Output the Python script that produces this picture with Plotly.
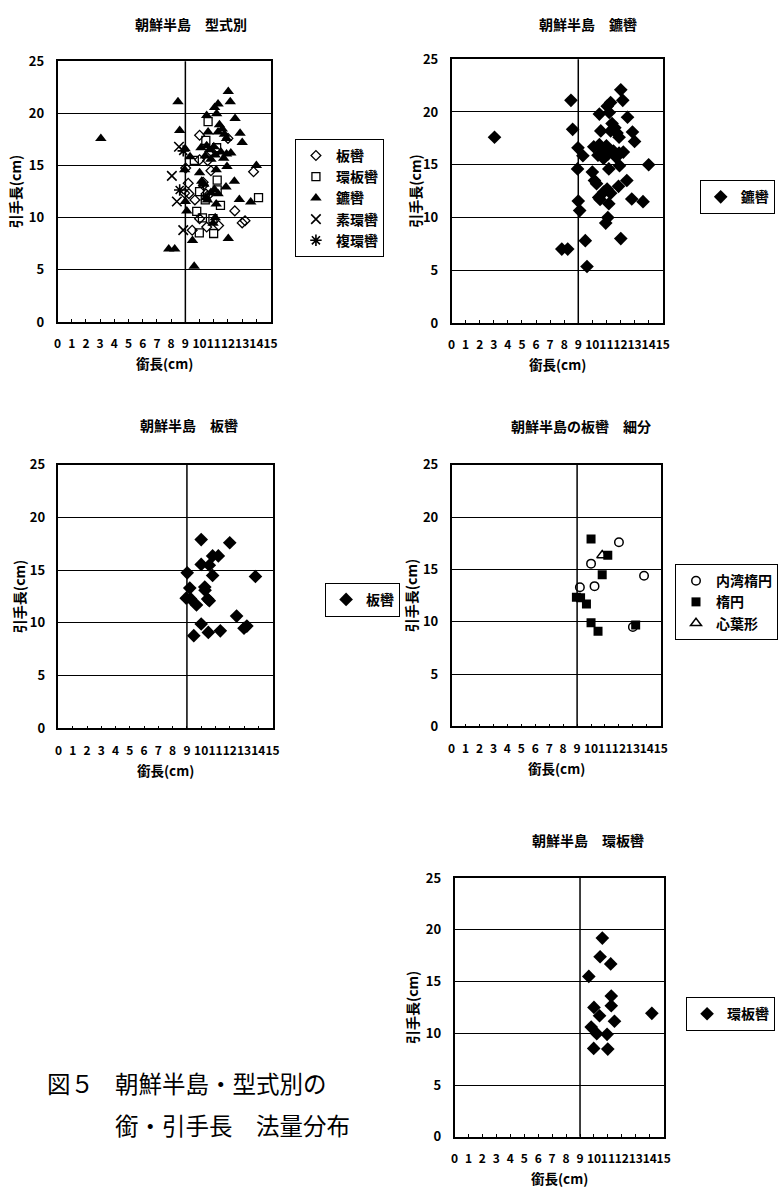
import plotly.graph_objects as go

# ---------------- data (銜長 x, 引手長 y in cm) ----------------
X_TICKS = [str(v) for v in range(16)]
Y_TICKS = [0, 5, 10, 15, 20, 25]
X_CROSS = 9  # value axis crosses the category axis here

# 鑣轡
kyo_x = [3.05, 8.48, 8.6, 8.98, 9.33, 8.95, 9.0, 9.1, 7.83, 8.25, 9.5, 9.62,
         10.0, 10.15, 10.3, 10.45, 10.55, 10.5, 10.6, 11.06, 11.2, 11.3, 12.02,
         12.16, 12.5, 12.85, 13.0, 14.0, 13.6, 12.8, 12.45, 11.86, 12.02, 10.95,
         11.1, 11.17, 11.05, 11.3, 10.8, 11.17, 11.93, 11.4, 11.6, 11.75, 11.3,
         11.9, 10.1, 10.5, 10.7, 11.0, 11.1, 11.5, 11.9, 12.2, 10.4, 11.7, 10.8]
kyo_y = [17.6, 21.1, 18.35, 16.6, 15.85, 14.6, 11.55, 10.65, 7.0, 7.0, 7.8, 5.35,
         14.3, 13.5, 13.2, 11.9, 11.7, 19.8, 18.2, 20.55, 19.95, 20.9, 22.1,
         21.1, 19.5, 18.1, 17.2, 15.0, 11.5, 11.75, 13.5, 12.95, 8.0, 9.47,
         10.0, 11.3, 12.7, 12.3, 12.4, 14.6, 14.9, 18.9, 18.5, 18.0, 18.2,
         17.6, 16.7, 16.9, 16.5, 16.8, 16.0, 16.3, 16.1, 16.2, 15.9, 15.7, 15.6]

# 板轡, by sub-type
naiwan_x = [12.0, 10.0, 13.8, 9.2, 10.25, 13.0]          # 内湾楕円
naiwan_y = [17.6, 15.55, 14.4, 13.3, 13.4, 9.5]
daen_x = [10.0, 11.2, 10.8, 8.95, 9.25, 9.67, 10.0, 10.5, 13.2]   # 楕円
daen_y = [17.9, 16.35, 14.5, 12.35, 12.3, 11.7, 9.9, 9.1, 9.7]
shinyo_x = [10.8]                                         # 心葉形
shinyo_y = [16.35]
itaother_x = [9.02, 10.57, 10.27, 10.45, 10.57, 12.48, 11.34, 9.48]  # 未分類
itaother_y = [14.75, 15.47, 13.1, 12.27, 12.1, 10.65, 9.25, 8.79]

# 環板轡
kanban_x = [10.6, 10.44, 11.2, 9.63, 11.24, 11.24, 10.0, 10.4, 11.47, 14.15,
            9.8, 10.2, 10.94, 9.98, 10.99]
kanban_y = [19.2, 17.4, 16.7, 15.5, 13.6, 12.66, 12.5, 11.7, 11.17, 11.93,
            10.6, 9.97, 9.9, 8.54, 8.48]

# 素環轡 / 複環轡
sokan_x = [8.05, 8.4, 8.85, 8.55]
sokan_y = [14.0, 11.55, 8.8, 16.8]
fukukan_x = [8.6, 8.85]
fukukan_y = [12.65, 16.4]

ita_x = naiwan_x + daen_x + shinyo_x + itaother_x
ita_y = naiwan_y + daen_y + shinyo_y + itaother_y

# ---------------- page geometry (pixels) ----------------
W, H = 778, 1199
FONT = "Noto Sans CJK JP"


def fx(p):
    return p / W


def fy(p):
    return 1 - p / H


# plot boxes: left, top, right, bottom
boxes = {
    1: (55, 52, 274, 317),
    2: (460, 50, 677, 318),
    3: (56, 462, 276, 730),
    4: (460, 462, 675, 728),
    5: (463, 882, 678, 1145),
}
titles = {
    1: ("朝鮮半島　型式別", 192, 14),
    2: ("朝鮮半島　鑣轡", 600, 14),
    3: ("朝鮮半島　板轡", 190, 422),
    4: ("朝鮮半島の板轡　細分", 593, 423),
    5: ("朝鮮半島　環板轡", 600, 843),
}
ytitle_x = {1: 11, 2: 422, 3: 15, 4: 418, 5: 420}
legend_pos = {1: (299, 131), 2: (715, 173), 3: (330, 582), 4: (690, 563), 5: (701, 1003)}

fig = go.Figure()


def add(panel, x, y, name, symbol, size, lw=1.3):
    sfx = "" if panel == 1 else str(panel)
    marker = dict(symbol=symbol, size=size, color="black",
                  line=dict(color="black", width=lw))
    fig.add_trace(go.Scatter(
        x=x, y=y, mode="markers", name=name, marker=marker,
        xaxis="x" + sfx, yaxis="y" + sfx, legend="legend" + sfx,
        hoverinfo="x+y+name"))


# panel 1: all types
add(1, ita_x, ita_y, "板轡", "diamond-open", 7.5)
add(1, kanban_x, kanban_y, "環板轡", "square-open", 8)
add(1, kyo_x, kyo_y, "鑣轡", "triangle-up", 10, lw=0)
add(1, sokan_x, sokan_y, "素環轡", "x-thin-open", 9.5, lw=1.6)
add(1, fukukan_x, fukukan_y, "複環轡", "asterisk-open", 9.5, lw=1.6)
# panel 2: 鑣轡
add(2, kyo_x, kyo_y, "鑣轡", "diamond", 10.5, lw=0)
# panel 3: 板轡
add(3, ita_x, ita_y, "板轡", "diamond", 10.5, lw=0)
# panel 4: 板轡 sub-types
add(4, naiwan_x, naiwan_y, "内湾楕円", "circle-open", 8.5, lw=1.5)
add(4, daen_x, daen_y, "楕円", "square", 9, lw=0)
add(4, shinyo_x, shinyo_y, "心葉形", "triangle-up-open", 9.5, lw=1.5)
# panel 5: 環板轡
add(5, kanban_x, kanban_y, "環板轡", "diamond", 10.5, lw=0)

annotations = []
shapes = []
layout = {}
for i, (l, t, r, b) in boxes.items():
    sfx = "" if i == 1 else str(i)
    layout["xaxis" + sfx] = dict(
        domain=[fx(l), fx(r)], range=[0, 15], anchor="y" + sfx,
        tickmode="array", tickvals=list(range(16)), ticktext=X_TICKS,
        tickangle=0, ticks="inside", ticklen=3, tickwidth=1, tickcolor="black",
        showline=True, mirror=True, linecolor="black", linewidth=1.5,
        showgrid=False, zeroline=False, ticklabelstandoff=10,
        tickfont=dict(family=FONT, size=12, color="black", weight="bold"))
    layout["yaxis" + sfx] = dict(
        domain=[fy(b), fy(t)], range=[0, 25], anchor="x" + sfx,
        tickmode="array", tickvals=Y_TICKS, ticks="",
        showline=True, mirror=True, linecolor="black", linewidth=1.5,
        showgrid=True, gridcolor="black", gridwidth=1, zeroline=False,
        ticklabelstandoff=9,
        tickfont=dict(family=FONT, size=13, color="black", weight="bold"))
    shapes.append(dict(type="line", xref="x" + sfx, yref="y" + sfx + " domain",
                       x0=X_CROSS, x1=X_CROSS, y0=0, y1=1,
                       line=dict(color="black", width=1.5)))
    text, cx, cy = titles[i]
    annotations.append(dict(text=text, x=fx(cx), y=fy(cy), xref="paper", yref="paper",
                            xanchor="center", yanchor="middle", showarrow=False,
                            font=dict(family=FONT, size=14, color="black", weight="bold")))
    annotations.append(dict(text="銜長(cm)", x=fx((l + r) / 2), y=fy(b + 42),
                            xref="paper", yref="paper", xanchor="center", yanchor="middle",
                            showarrow=False,
                            font=dict(family=FONT, size=13.5, color="black", weight="bold")))
    annotations.append(dict(text="引手長(cm)", x=fx(ytitle_x[i]), y=fy((t + b) / 2),
                            xref="paper", yref="paper", xanchor="center", yanchor="middle",
                            textangle=-90, showarrow=False,
                            font=dict(family=FONT, size=14, color="black", weight="bold")))
    lx, ly = legend_pos[i]
    layout["legend" + sfx] = dict(
        x=fx(lx), y=fy(ly), xanchor="left", yanchor="top",
        bgcolor="white", bordercolor="black", borderwidth=1,
        itemwidth=30, tracegroupgap=0, itemclick=False, itemdoubleclick=False,
        font=dict(family=FONT, size=14, color="black", weight="bold"))

# figure caption
cap_font = dict(family=FONT, size=23.5, color="black")
annotations.append(dict(text="図５", x=fx(42), y=fy(1090), xref="paper", yref="paper",
                        xanchor="left", yanchor="middle", showarrow=False, font=cap_font))
annotations.append(dict(text="朝鮮半島・型式別の", x=fx(112), y=fy(1090), xref="paper",
                        yref="paper", xanchor="left", yanchor="middle", showarrow=False,
                        font=cap_font))
annotations.append(dict(text="銜・引手長　法量分布", x=fx(112), y=fy(1133), xref="paper",
                        yref="paper", xanchor="left", yanchor="middle", showarrow=False,
                        font=cap_font))

fig.update_layout(
    width=W, height=H, margin=dict(l=0, r=0, t=0, b=0),
    paper_bgcolor="white", plot_bgcolor="white", showlegend=True,
    annotations=annotations, shapes=shapes, **layout)

fig.write_html("out.html")
